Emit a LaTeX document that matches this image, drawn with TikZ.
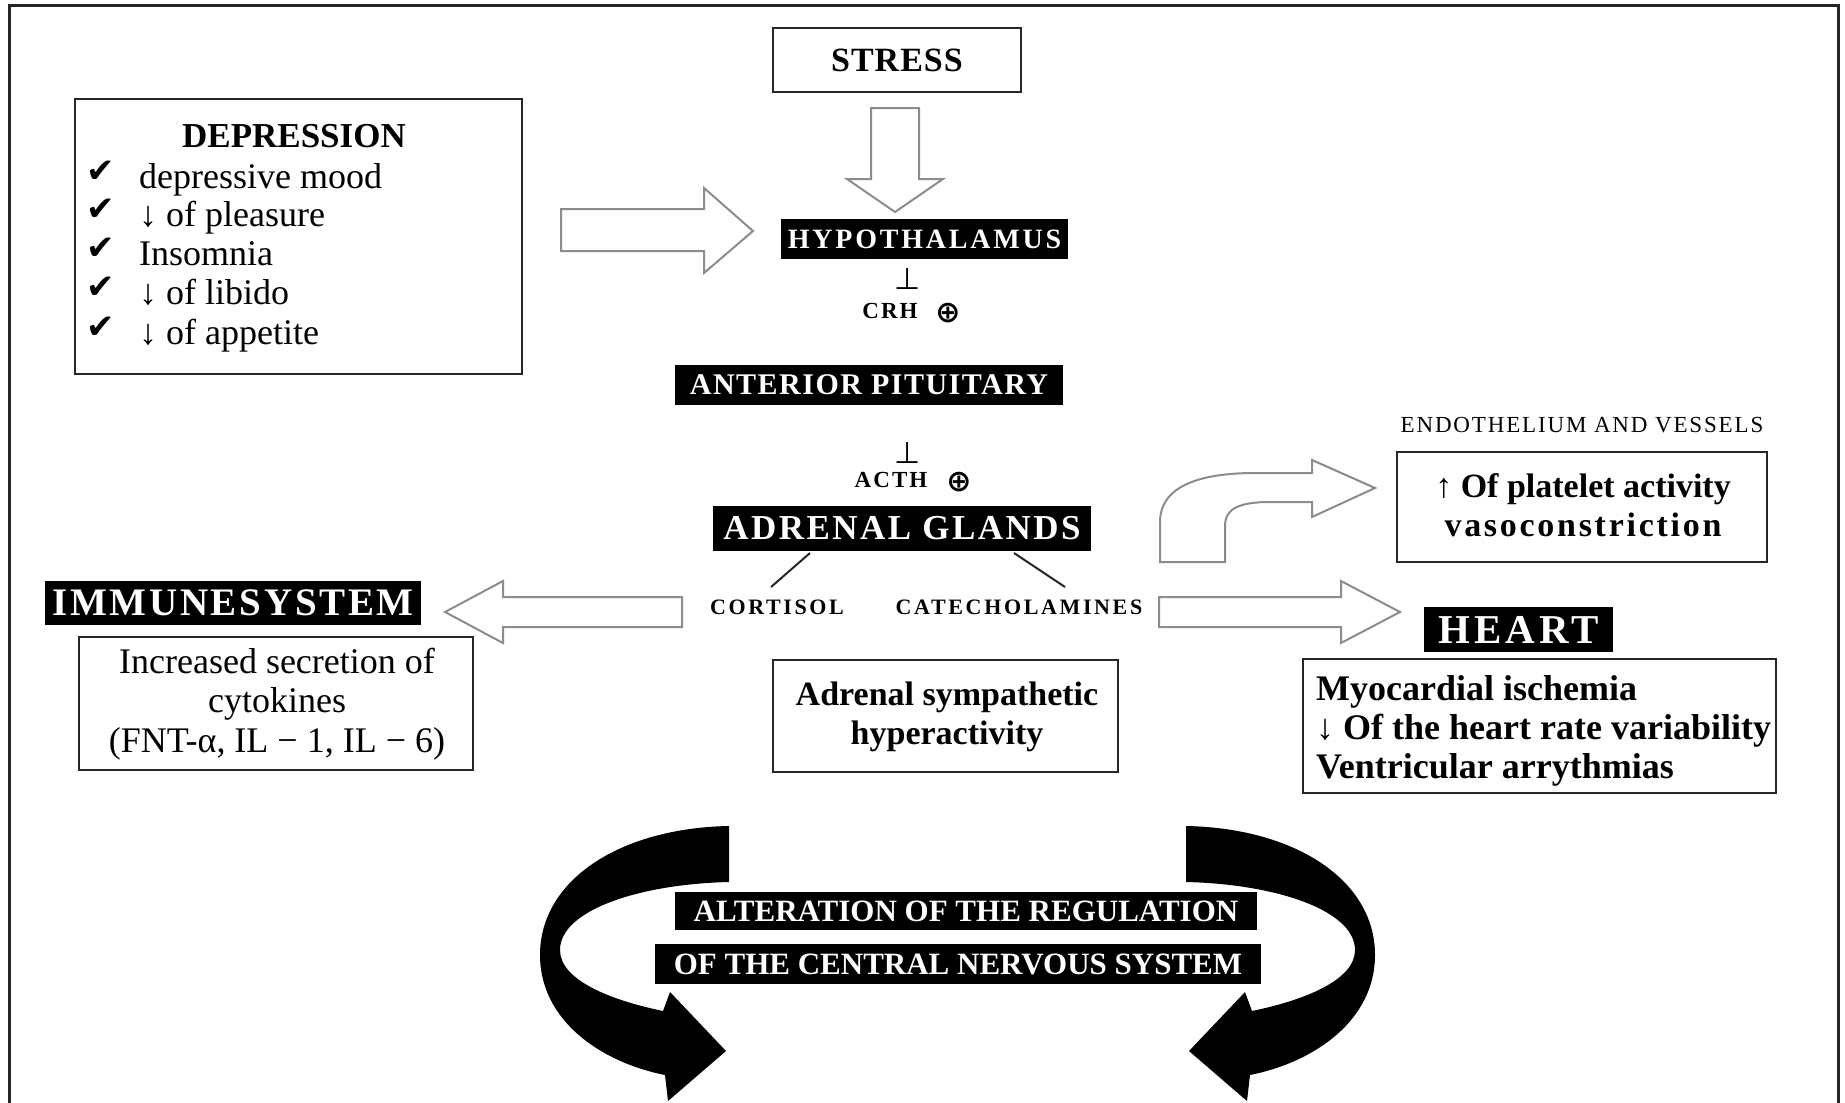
\documentclass[tikz,border=0pt]{standalone}
\usepackage{fontspec}
\setmainfont{Liberation Serif}
\newfontfamily\dejavu{DejaVu Sans}
\usetikzlibrary{calc}
\newcommand\setfs[1]{\fontsize{#1}{#1}\selectfont}
\newcommand\lsp[1]{\addfontfeature{LetterSpace=#1}}
\tikzset{
  frame/.style={draw=black!85, line width=3pt},
  wbox/.style={draw=black!85, line width=2pt, fill=white, inner sep=0pt},
  bbox/.style={fill=black, text=white, inner sep=0pt},
  txt/.style={inner sep=0pt, text=black},
  hollow/.style={draw=black!45, line width=2pt, fill=white, line join=miter},
  solidarrow/.style={fill=black, draw=none},
  link/.style={draw=black!85, line width=2pt},
}
\begin{document}
\begin{tikzpicture}[x=1pt,y=-1pt]
\useasboundingbox (0,0) rectangle (1845,1103);
\draw[frame] (9,1103) -- (9,5) -- (1838,5) -- (1838,1103);

% ---------- STRESS and axis ----------
\node[wbox, minimum width=248pt, minimum height=64pt, font=\setfs{34}\bfseries\lsp{3}] (stress) at (897,60) {STRESS};
\draw[hollow] (871,108) -- (919,108) -- (919,179) -- (943,179) -- (895,212) -- (847,179) -- (871,179) -- cycle;

\node[bbox, minimum width=287pt, minimum height=40pt, font=\setfs{28}\bfseries\lsp{10}] (hyp) at (924.5,239) {HYPOTHALAMUS};
\node[txt, anchor=base, font=\dejavu\setfs{30}] (perp1) at (908,289) {⊥};
\node[txt, anchor=base, font=\setfs{23}\bfseries\lsp{9}] (crh) at (890,318) {CRH};
\node[txt, anchor=base, font=\dejavu\bfseries\setfs{30}] (plus1) at (948,322) {⊕};

\node[bbox, minimum width=388pt, minimum height=40pt, font=\setfs{30}\bfseries\lsp{5}] (pit) at (869,385) {ANTERIOR PITUITARY};
\node[txt, anchor=base, font=\dejavu\setfs{30}] (perp2) at (908,463) {⊥};
\node[txt, anchor=base, font=\setfs{23}\bfseries\lsp{9}] (acth) at (891,487) {ACTH};
\node[txt, anchor=base, font=\dejavu\bfseries\setfs{30}] (plus2) at (959,491) {⊕};

\node[bbox, minimum width=378pt, minimum height=45pt, font=\setfs{35}\bfseries\lsp{7}] (adr) at (902,528.5) {ADRENAL GLANDS};

\node[txt, anchor=base, font=\setfs{22}\bfseries\lsp{12}] (cort) at (777,614) {CORTISOL};
\node[txt, anchor=base, font=\setfs{22}\bfseries\lsp{12}] (cate) at (1019,614) {CATECHOLAMINES};
\coordinate (cortA) at (810,553);
\coordinate (cortB) at (771,587);
\coordinate (cateA) at (1014,553);
\coordinate (cateB) at (1065,587);
\draw[link] (cortA) -- (cortB);
\draw[link] (cateA) -- (cateB);

% ---------- DEPRESSION ----------
\node[wbox, minimum width=447pt, minimum height=275pt] (dep) at (298.5,236.5) {};
\node[txt, anchor=base, font=\setfs{35}\bfseries] (deptitle) at (294,147.5) {DEPRESSION};
\foreach \i/\yy/\t in {1/188/depressive mood, 2/226/↓ of pleasure, 3/265/Insomnia, 4/304/↓ of libido, 5/344/↓ of appetite}{
  \node[txt, anchor=base, font=\dejavu\setfs{34}] (chk\i) at (101,\yy-6) {✔};
  \node[txt, anchor=base west, font=\setfs{36}] (dl\i) at (139,\yy) {\t};
}
\draw[hollow] (561,209) -- (704,209) -- (704,188) -- (753,231) -- (704,273) -- (704,251) -- (561,251) -- cycle;

% ---------- IMMUNE ----------
\draw[hollow] (682,597) -- (503,597) -- (503,581) -- (445,612) -- (503,643) -- (503,627) -- (682,627) -- cycle;
\node[bbox, minimum width=376pt, minimum height=44pt, font=\setfs{39}\bfseries\lsp{7}] (imm) at (233,603) {IMMUNESYSTEM};
\node[wbox, minimum width=394pt, minimum height=133pt] (immbox) at (276,703.5) {};
\node[txt, anchor=base, font=\setfs{36}] (im1) at (277,673) {Increased secretion of};
\node[txt, anchor=base, font=\setfs{36}] (im2) at (277,712) {cytokines};
\node[txt, anchor=base, font=\setfs{36}] (im3) at (277,752) {(FNT-α, IL − 1, IL − 6)};

% ---------- ADRENAL SYMPATHETIC ----------
\node[wbox, minimum width=345pt, minimum height=112pt] (symbox) at (945.5,716) {};
\node[txt, anchor=base, font=\setfs{34}\bfseries] (sy1) at (947,705) {Adrenal sympathetic};
\node[txt, anchor=base, font=\setfs{34}\bfseries] (sy2) at (947,744) {hyperactivity};

% ---------- ENDOTHELIUM ----------
\draw[hollow] (1160,562) -- (1160,522) .. controls (1160,486) and (1200,473) .. (1255,473) -- (1312,473) -- (1312,460) -- (1375,488) -- (1312,517) -- (1312,502) -- (1265,502) .. controls (1240,503) and (1225,508) .. (1225,526) -- (1225,562) -- cycle;
\node[txt, anchor=base, font=\setfs{23}\lsp{8}] (endot) at (1582,432) {ENDOTHELIUM AND VESSELS};
\node[wbox, minimum width=370pt, minimum height=110pt] (endbox) at (1582,507) {};
\node[txt, anchor=base, font=\setfs{34}\bfseries] (en1) at (1583,497) {↑ Of platelet activity};
\node[txt, anchor=base, font=\setfs{34}\bfseries\lsp{8}] (en2) at (1583,536) {vasoconstriction};

% ---------- HEART ----------
\draw[hollow] (1159,597) -- (1341,597) -- (1341,581) -- (1400,612) -- (1341,643) -- (1341,627) -- (1159,627) -- cycle;
\node[bbox, minimum width=189pt, minimum height=45pt, font=\setfs{41}\bfseries\lsp{10}] (heart) at (1518.5,629.5) {HEART};
\node[wbox, minimum width=473pt, minimum height=134pt] (hbox) at (1539.5,726) {};
\node[txt, anchor=base west, font=\setfs{36}\bfseries] (h1) at (1316,700) {Myocardial ischemia};
\node[txt, anchor=base west, font=\setfs{36}\bfseries] (h2) at (1316,739) {↓ Of the heart rate variability};
\node[txt, anchor=base west, font=\setfs{36}\bfseries] (h3) at (1316,778) {Ventricular arrythmias};

% ---------- CNS ----------
\fill[solidarrow] (729,826) .. controls (620,828) and (540,880) .. (540,955)
  .. controls (540,1020) and (600,1062) .. (665,1075) -- (668,1101) -- (726,1051) -- (670,992) -- (663,1011)
  .. controls (610,1000) and (560,980) .. (560,950)
  .. controls (560,910) and (640,884) .. (729,882) -- cycle;
\fill[solidarrow] (1186,826) .. controls (1295,828) and (1375,880) .. (1375,955)
  .. controls (1375,1020) and (1315,1062) .. (1250,1075) -- (1247,1101) -- (1189,1051) -- (1245,992) -- (1252,1011)
  .. controls (1305,1000) and (1355,980) .. (1355,950)
  .. controls (1355,910) and (1275,884) .. (1186,882) -- cycle;
\node[bbox, minimum width=582pt, minimum height=38pt, font=\setfs{31}\bfseries] (alt1) at (966,911) {ALTERATION OF THE REGULATION};
\node[bbox, minimum width=606pt, minimum height=40pt, font=\setfs{31}\bfseries] (alt2) at (958,964) {OF THE CENTRAL NERVOUS SYSTEM};
\end{tikzpicture}
\end{document}
